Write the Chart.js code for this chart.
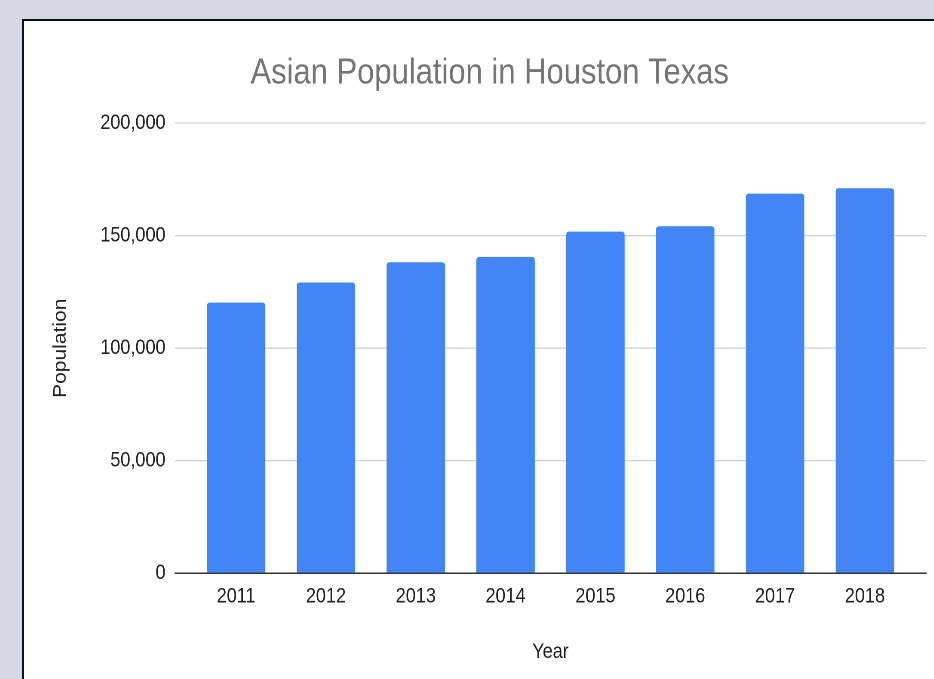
<!DOCTYPE html>
<html>
<head>
<meta charset="utf-8">
<script src="https://cdn.jsdelivr.net/npm/chart.js@4"></script>
<style>
  body { margin: 0; background: #d4d9e3; overflow: hidden; }
  #panel { position: absolute; left: 22px; top: 19px; width: 1000px; height: 700px;
           border: 2px solid #111; background: #fff; overflow: hidden; }
  /* the original screenshot is squeezed sideways, so squeeze the canvas too */
  #wrap { width: 1083px; height: 658px; transform: scaleX(0.86); transform-origin: 0 0; }
</style>
</head>
<body>
<div id="panel">
  <div id="wrap"><canvas id="myChart" width="1083" height="658"></canvas></div>
</div>
<script>
const years = [2011, 2012, 2013, 2014, 2015, 2016, 2017, 2018];
const population = [120300, 129200, 138200, 140600, 151800, 154200, 168700, 171100];
const yTicks = [0, 50000, 100000, 150000, 200000];

const font = "'Liberation Sans', Arial, sans-serif";

let points = [];
for (let i = 0; i < years.length; i++) {
    points.push({ x: years[i], y: population[i] });
}

let ctx = document.getElementById("myChart").getContext("2d");

const barChart = new Chart(ctx, {
    type: "bar",
    data: {
        datasets: [{
            label: "Population",
            data: points,
            backgroundColor: "#4285f4",
            borderRadius: { topLeft: 3, topRight: 3 },
            borderSkipped: "start",
            barPercentage: 0.65,
            categoryPercentage: 1
        }]
    },
    options: {
        responsive: false,
        animation: false,
        devicePixelRatio: 2,
        layout: { padding: 0 },
        plugins: {
            legend: { display: false },
            tooltip: { enabled: false },
            title: {
                display: true,
                text: "Asian Population in Houston Texas",
                color: "#757575",
                font: { family: font, size: 36, weight: "normal" },
                padding: { top: 31, bottom: 28 }
            }
        },
        scales: {
            x: {
                type: "linear",
                min: years[0] - 0.68,
                max: years[years.length - 1] + 0.68,
                offset: false,
                afterFit: function (scale) { scale.height = 105.7; },
                grid: { display: false, drawTicks: false, offset: false },
                border: { display: true, color: "#333", width: 1.5 },
                ticks: {
                    stepSize: 1,
                    includeBounds: false,
                    color: "#222",
                    padding: 11,
                    font: { family: font, size: 21 },
                    callback: function (v) { return String(v); }
                },
                title: {
                    display: true,
                    text: "Year",
                    color: "#222",
                    font: { family: font, size: 21 },
                    padding: { top: 0, bottom: 14 }
                }
            },
            y: {
                min: yTicks[0],
                max: yTicks[yTicks.length - 1],
                afterFit: function (scale) { scale.width = 175.6; },
                afterBuildTicks: function (scale) {
                    scale.ticks = yTicks.map(function (v) { return { value: v }; });
                },
                grid: { color: "#cfcfcf", lineWidth: 1.3, drawTicks: false },
                border: { display: false },
                ticks: {
                    color: "#222",
                    padding: 11,
                    font: { family: font, size: 21 },
                    callback: function (v) { return v.toLocaleString("en-US"); }
                },
                title: {
                    display: true,
                    text: "Population",
                    color: "#222",
                    font: { family: font, size: 21 },
                    padding: { top: 30, bottom: 0 }
                }
            },
            // empty space on the right, so the title stays centred on the whole box
            spacer: {
                type: "linear",
                position: "right",
                afterFit: function (scale) { scale.width = 34.2; },
                grid: { display: false, drawTicks: false },
                border: { display: false },
                ticks: { display: false }
            }
        }
    }
});
</script>
</body>
</html>
